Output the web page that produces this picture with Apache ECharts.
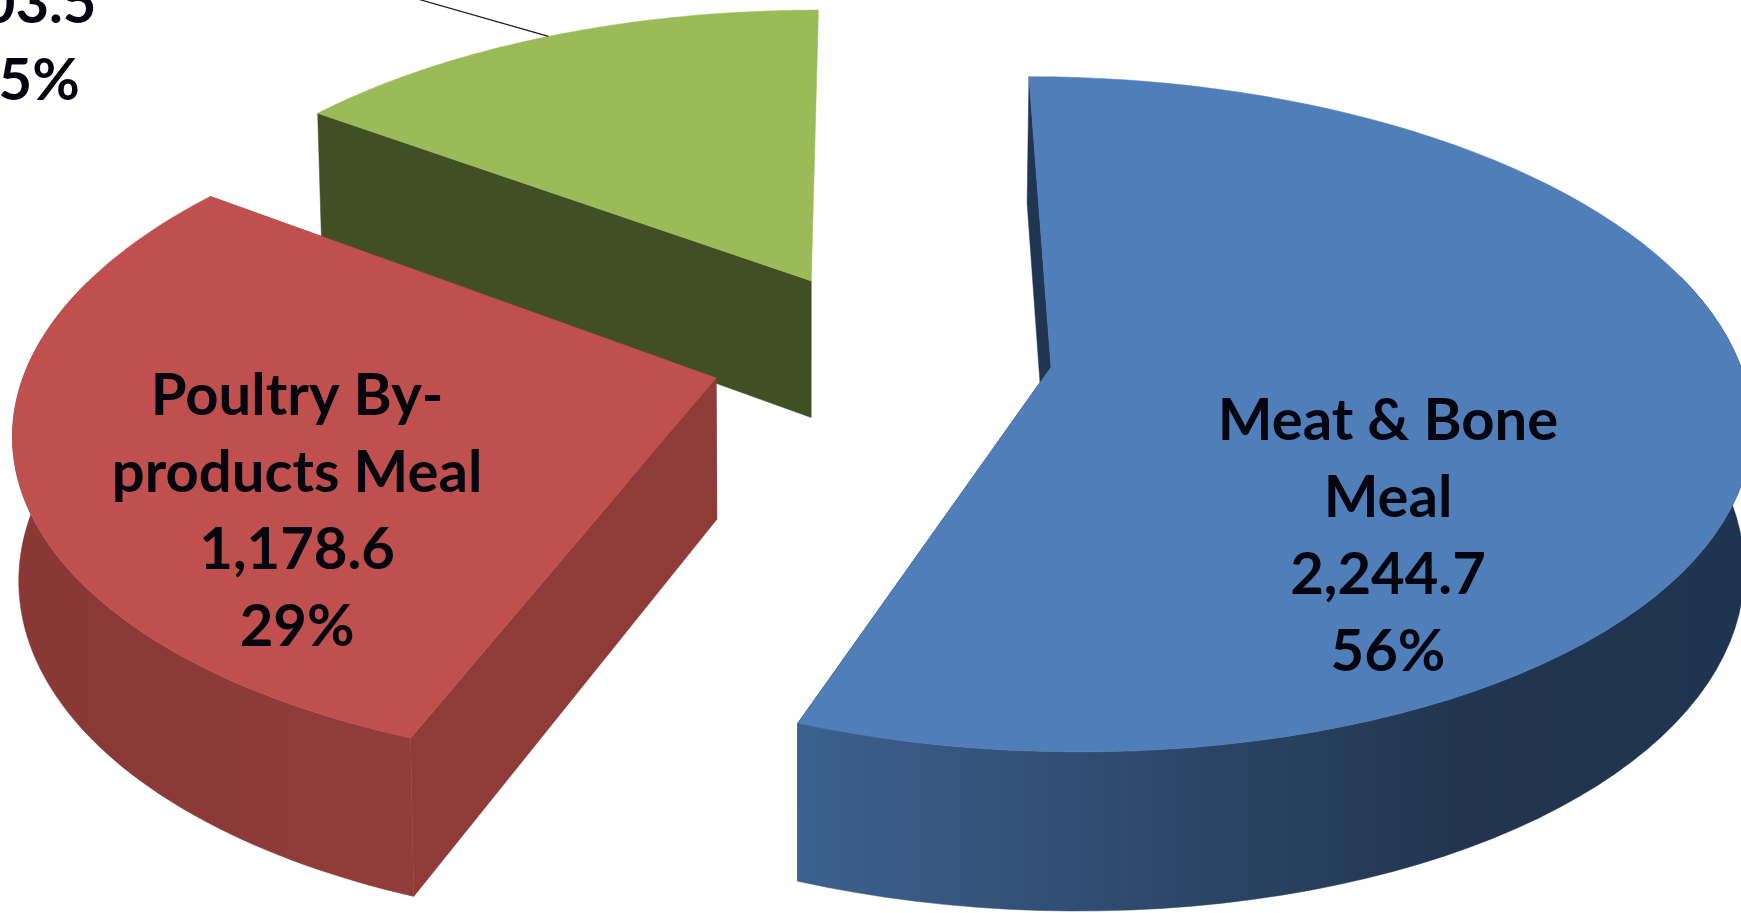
<!DOCTYPE html>
<html>
<head>
<meta charset="utf-8">
<style>html,body{margin:0;padding:0;background:#fff;overflow:hidden}#c{width:1741px;height:913px}</style>
<script src="https://cdn.jsdelivr.net/npm/echarts@6/dist/echarts.min.js"></script>
</head>
<body>
<div id="c"></div>
<script>
// ---- data ----
const nameLines = [['Meat & Bone', 'Meal'], ['Poultry By-', 'products Meal'], []];
const values = [2244.7, 1178.6, 603.5];
const percents = ['56%', '29%', '15%'];

// ---- look ----
const total = values.reduce((a, b) => a + b, 0);
const topColor = ['#4F7EB9', '#BF504D', '#9BBB59'];
const sideColor = ['#1F3552', '#8F3B38', '#404F24'];
const wallStops = [
  [[0, '#3C618E'], [0.35, '#2E4A6E'], [0.7, '#21354F'], [1, '#1F3450']],
  [[0, '#8A3836'], [0.5, '#8C3A38'], [1, '#933D3A']],
  [[0, '#404F24'], [1, '#404F24']]
];
// projection of the tilted pie
const cam = { f: 690, b: 122, k: 0.14, g: 331, cv: 367, q: 146, m: 0.01, nadir: 800, lean: 0.008 };
// exploded position of every slice apex: screen-x numerator and depth
const explode = [[1051, 0], [716.8, -0.033], [809, 0.27]];
// label offsets from each slice apex
const labelOffset = [[337, 54], [-419, 18], [-789, -277]];
const lineGap = 77;
const fontSize = 58;

function project(s, x, y, bottom) {
  const Y = explode[s][1] + y;
  const w = 1 + cam.k * Y;
  const nu = explode[s][0] + cam.f * x + cam.b * Y;
  const nv = cam.cv * w - cam.g * Y;
  const u = nu / w;
  if (!bottom) return [u, nv / w];
  return [u + cam.lean * (cam.nadir - u), (nv + cam.q) / (w + cam.m)];
}
function rim(s, a, bottom) { return project(s, Math.sin(a), Math.cos(a), bottom); }
function faces(a, b, c) {
  return (b[0] - a[0]) * (c[1] - a[1]) - (b[1] - a[1]) * (c[0] - a[0]) < 0;
}

function renderItem(params, api) {
  const s = api.value(0);
  const v = api.value(1);
  let before = 0;
  for (let i = 0; i < s; i++) before += values[i];
  const a0 = before / total * Math.PI * 2;
  const a1 = (before + v) / total * Math.PI * 2;
  const n = 90;
  const topArc = [], frontT = [], frontB = [];
  for (let i = 0; i <= n; i++) {
    const a = a0 + (a1 - a0) * i / n;
    topArc.push(rim(s, a, false));
    if (Math.cos(a) <= 0.3) {
      frontT.push(rim(s, a, false));
      frontB.push(rim(s, a, true));
    }
  }
  const apexT = project(s, 0, 0, false), apexB = project(s, 0, 0, true);
  const kids = [];
  const solid = (pts, fill) => kids.push({
    type: 'polygon', shape: { points: pts },
    style: { fill: fill, stroke: fill, lineWidth: 0.5 }
  });
  // radial walls that face the viewer
  [a0, a1].forEach(a => {
    const rt = rim(s, a, false), rb = rim(s, a, true);
    if (faces(apexT, rt, apexB)) solid([apexT, rt, rb, apexB], sideColor[s]);
  });
  // curved front wall, shaded along x
  if (frontB.length > 1) {
    const xs = frontB.map(p => p[0]);
    const x0 = Math.min.apply(null, xs), x1 = Math.max.apply(null, xs);
    solid(frontT.concat(frontB.slice().reverse()), {
      type: 'linear', global: true, x: x0, y: 0, x2: x1, y2: 0,
      colorStops: wallStops[s].map(c => ({ offset: c[0], color: c[1] }))
    });
  }
  // top face
  solid([apexT].concat(topArc), topColor[s]);
  // leader for the outside label
  if (s === 2) {
    const p = rim(s, (a0 + a1) / 2, false);
    kids.push({
      type: 'line',
      shape: { x1: p[0], y1: p[1], x2: p[0] - 140, y2: p[1] - 40 },
      style: { stroke: '#1a1a1a', lineWidth: 1.2 }
    });
  }
  // label
  const lines = nameLines[s].concat([v.toLocaleString('en-US', { minimumFractionDigits: 1 }), percents[s]]);
  const ax = apexT[0] + labelOffset[s][0], ay = apexT[1] + labelOffset[s][1];
  lines.forEach((t, i) => kids.push({
    type: 'text',
    style: {
      x: ax, y: ay + i * lineGap, text: t, align: 'center', verticalAlign: 'middle',
      fill: '#050510',
      font: 'bold ' + fontSize + 'px Lato, "Open Sans", sans-serif'
    }
  }));
  return { type: 'group', children: kids };
}

const paintOrder = [2, 1, 0];
const chart = echarts.init(document.getElementById('c'), null, { renderer: 'canvas' });
chart.setOption({
  animation: false,
  backgroundColor: '#ffffff',
  series: [{
    type: 'custom',
    coordinateSystem: 'none',
    renderItem: renderItem,
    clip: false,
    data: paintOrder.map(i => [i, values[i]])
  }]
});
</script>
</body>
</html>
